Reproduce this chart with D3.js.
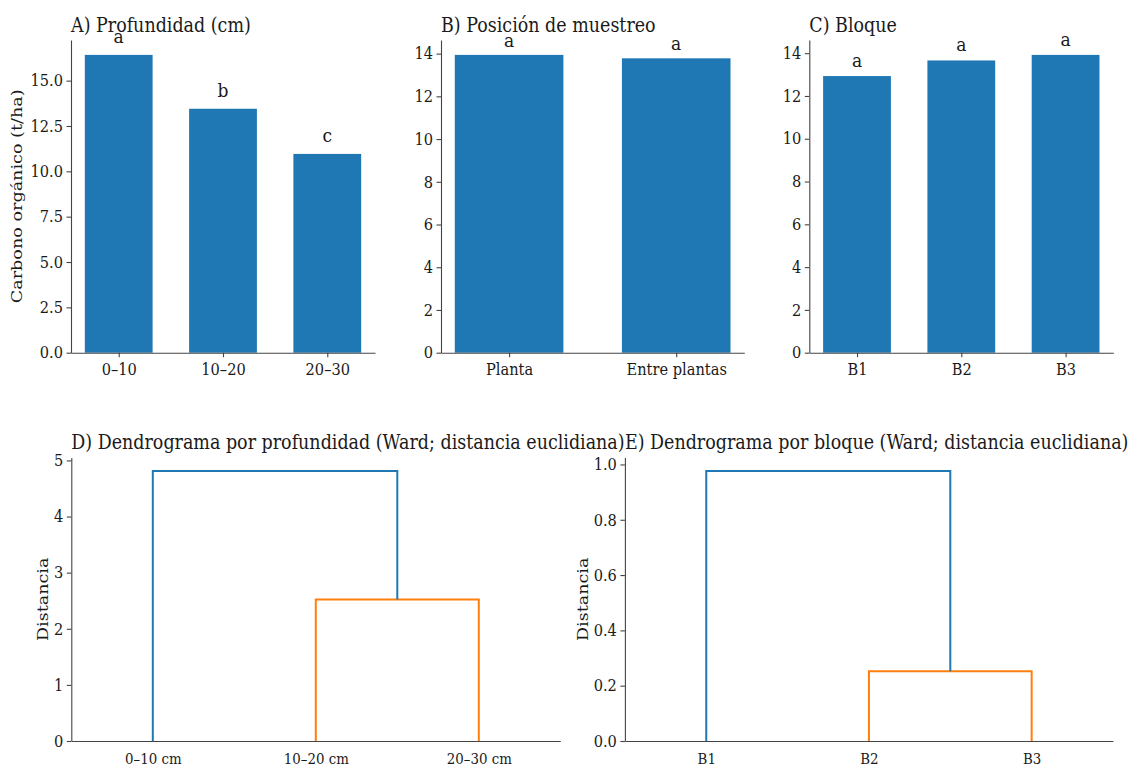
<!DOCTYPE html>
<html><head><meta charset="utf-8">
<script src="https://cdn.jsdelivr.net/npm/d3@7"></script>
<style>
html,body{margin:0;padding:0;background:#fff;}
svg{display:block;}
text{font-family:"DejaVu Serif",serif;fill:#1a1a1a;}
</style></head>
<body>
<svg id="c" width="1138" height="767"></svg>
<script>
// ---------- DATA ----------
const depthCats = ["0–10", "10–20", "20–30"];
const depthVals = [16.42, 13.45, 10.96];
const depthLetters = ["a", "b", "c"];
const depthTicks = [0, 2.5, 5, 7.5, 10, 12.5, 15];

const posCats = ["Planta", "Entre plantas"];
const posVals = [13.94, 13.78];
const posLetters = ["a", "a"];
const posTicks = [0, 2, 4, 6, 8, 10, 12, 14];

const blockCats = ["B1", "B2", "B3"];
const blockVals = [12.93, 13.66, 13.92];
const blockLetters = ["a", "a", "a"];
const blockTicks = [0, 2, 4, 6, 8, 10, 12, 14];

const dendDepthLeaves = ["0–10 cm", "10–20 cm", "20–30 cm"];
const dendDepthHeights = [2.52, 4.81];   // merge(10–20,20–30), merge(0–10, cluster)
const dendDepthTicks = [0, 1, 2, 3, 4, 5];

const dendBlockLeaves = ["B1", "B2", "B3"];
const dendBlockHeights = [0.252, 0.976];
const dendBlockTicks = [0, 0.2, 0.4, 0.6, 0.8, 1.0];

// ---------- STYLE ----------
const BAR = "#1f77b4", C0 = "#1f77b4", C1 = "#ff7f0e", SPINE = "#444";
const VS = 1.12; // vertical text stretch
const F_TICK = 14.6, F_LAB = 15.7, F_TITLE = 17.5, F_ANN = 17.1;

const svg = d3.select("#c");

function hText(g, x, y, s, size, anchor) {
  return g.append("text").attr("transform", `translate(${x},${y}) scale(1,${VS})`)
    .attr("text-anchor", anchor || "start").style("font-size", size + "px").text(s);
}
function vText(g, x, y, s, size) {
  return g.append("text").attr("transform", `translate(${x},${y}) scale(1,${VS}) rotate(-90)`)
    .attr("text-anchor", "middle").style("font-size", size + "px").text(s);
}
function styleAxis(ax, bottom) {
  ax.selectAll("path.domain").attr("stroke", SPINE).attr("stroke-width", 1.1);
  ax.selectAll(".tick line").attr("stroke", SPINE).attr("stroke-width", 1.1);
  ax.selectAll(".tick text").style("font-family", '"DejaVu Serif",serif')
    .style("font-size", F_TICK + "px").attr("fill", "#1a1a1a");
  if (bottom) {
    ax.selectAll(".tick text").attr("y", 0).attr("dy", null)
      .attr("transform", `translate(0,22.5) scale(1,${VS})`);
  } else {
    ax.selectAll(".tick text").attr("x", 0).attr("dy", "0.32em")
      .attr("transform", `translate(-8,0) scale(1,${VS})`);
  }
}

function barPanel(p) {
  const n = p.cats.length, w = 0.65;
  const span = (n - 1) + w, m = 0.05 * span;
  const x = d3.scaleLinear().domain([-w / 2 - m, n - 1 + w / 2 + m]).range([p.x0, p.x1]);
  const y = d3.scaleLinear().domain([0, d3.max(p.vals) * 1.05]).range([p.y1, p.y0]);
  const g = svg.append("g");
  g.selectAll("rect").data(p.vals).join("rect")
    .attr("x", (d, i) => x(i - w / 2)).attr("width", (d, i) => x(i + w / 2) - x(i - w / 2))
    .attr("y", d => y(d)).attr("height", d => y(0) - y(d)).attr("fill", BAR);
  p.vals.forEach((v, i) => hText(g, x(i), y(v) - p.off, p.letters[i], F_ANN, "middle"));
  const ya = g.append("g").attr("transform", `translate(${p.x0},0)`)
    .call(d3.axisLeft(y).tickValues(p.ticks).tickFormat(p.fmt).tickSize(4.5).tickSizeOuter(0));
  styleAxis(ya, false);
  const xa = g.append("g").attr("transform", `translate(0,${p.y1})`)
    .call(d3.axisBottom(x).tickValues(d3.range(n)).tickFormat(i => p.cats[i]).tickSize(4.5).tickSizeOuter(0));
  styleAxis(xa, true);
  hText(g, p.x0, p.y0 - 8, p.title, F_TITLE, "start");
  if (p.ylabel) vText(g, p.labX, (p.y0 + p.y1) / 2, p.ylabel, F_LAB);
}

function dendPanel(p) {
  const x = d3.scaleLinear().domain([0, p.leaves.length * 10]).range([p.x0, p.x1]);
  const y = d3.scaleLinear().domain([0, d3.max(p.heights) * 1.05]).range([p.y1, p.y0]);
  const g = svg.append("g");
  const [h1, h2] = p.heights;
  const links = [
    { pts: [[15, 0], [15, h1], [25, h1], [25, 0]], c: C1 },
    { pts: [[5, 0], [5, h2], [20, h2], [20, h1]], c: C0 }
  ];
  const line = d3.line().x(d => x(d[0])).y(d => y(d[1]));
  g.selectAll("path.lnk").data(links).join("path").attr("class", "lnk")
    .attr("d", d => line(d.pts)).attr("fill", "none").attr("stroke", d => d.c).attr("stroke-width", 2);
  const ya = g.append("g").attr("transform", `translate(${p.x0},0)`)
    .call(d3.axisLeft(y).tickValues(p.ticks).tickFormat(p.fmt).tickSize(4.5).tickSizeOuter(0));
  styleAxis(ya, false);
  const xa = g.append("g").attr("transform", `translate(0,${p.y1})`)
    .call(d3.axisBottom(x).tickValues([5, 15, 25]).tickFormat((d, i) => p.leaves[i]).tickSize(0).tickSizeOuter(0));
  styleAxis(xa, true);
  xa.selectAll(".tick text").style("font-size", "13.4px");
  hText(g, p.x0, p.y0 - 8.5, p.title, F_TITLE, "start");
  vText(g, p.labX, (p.y0 + p.y1) / 2, "Distancia", F_LAB);
}

const TOP0 = 40, TOP1 = 352.7, BOT0 = 457.6, BOT1 = 741;

barPanel({ cats: depthCats, vals: depthVals, letters: depthLetters, ticks: depthTicks, fmt: d3.format(".1f"),
  x0: 71, x1: 375, y0: TOP0, y1: TOP1, off: 11.5, title: "A) Profundidad (cm)",
  ylabel: "Carbono orgánico (t/ha)", labX: 22 });
barPanel({ cats: posCats, vals: posVals, letters: posLetters, ticks: posTicks, fmt: d3.format("d"),
  x0: 441, x1: 744.3, y0: TOP0, y1: TOP1, off: 8, title: "B) Posición de muestreo" });
barPanel({ cats: blockCats, vals: blockVals, letters: blockLetters, ticks: blockTicks, fmt: d3.format("d"),
  x0: 809.3, x1: 1113.3, y0: TOP0, y1: TOP1, off: 9, title: "C) Bloque" });

dendPanel({ leaves: dendDepthLeaves, heights: dendDepthHeights, ticks: dendDepthTicks, fmt: d3.format("d"),
  x0: 71.3, x1: 560.3, y0: BOT0, y1: BOT1, labX: 48,
  title: "D) Dendrograma por profundidad (Ward; distancia euclidiana)" });
dendPanel({ leaves: dendBlockLeaves, heights: dendBlockHeights, ticks: dendBlockTicks, fmt: d3.format(".1f"),
  x0: 624.9, x1: 1113, y0: BOT0, y1: BOT1, labX: 587.5,
  title: "E) Dendrograma por bloque (Ward; distancia euclidiana)" });
</script>
</body></html>
